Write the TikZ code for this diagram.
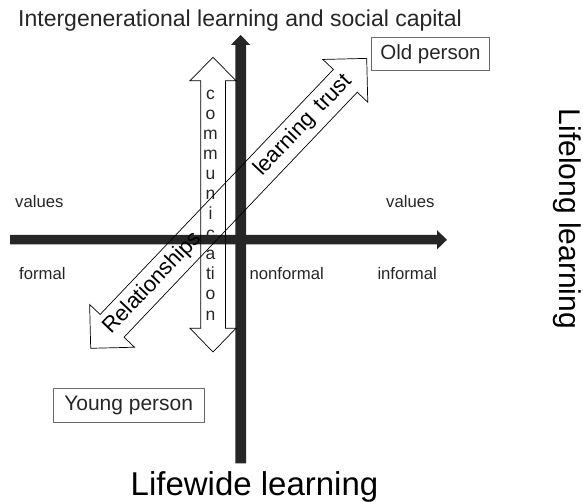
\documentclass[tikz,border=0pt]{standalone}
\usepackage{fontspec}
\setmainfont{Liberation Sans}
\definecolor{axisgray}{HTML}{262626}
\definecolor{txtgray}{HTML}{262626}
\definecolor{boxgray}{HTML}{6A6A6A}
\begin{document}
\begin{tikzpicture}[x=1pt,y=1pt,
  lbl/.style={inner sep=0pt, text=txtgray, font=\fontsize{16.7}{20}\selectfont},
  personbox/.style={draw=boxgray, line width=0.8pt, inner sep=0pt, text=txtgray},
  hollow/.style={draw=black, line width=0.7pt, line join=miter},
  axisfill/.style={fill=axisgray},
  diagtext/.style={inner sep=0pt, rotate=46.41, font=\fontsize{22}{26}\selectfont},
  commtext/.style={inner sep=0pt, text=txtgray, font=\fontsize{17.5}{20}\selectfont}]
\path[use as bounding box] (0,0) rectangle (583,-502);

% axes
\fill[axisfill] (10,-235) -- (437,-235) -- (437,-230.2) -- (447,-239.8) -- (437,-249.4) -- (437,-244.4) -- (10,-244.4) -- cycle;
\fill[axisfill] (235.3,-463.3) -- (235.3,-45) -- (230.8,-45) -- (240.6,-35) -- (250.4,-45) -- (246,-45) -- (246,-463.3) -- cycle;

% communication double arrow
\draw[hollow] (213,-57.3) -- (236,-80.7) -- (225.5,-80.7) -- (225.5,-328.3) -- (236,-328.3) -- (213,-352) -- (190,-328.3) -- (200.8,-328.3) -- (200.8,-80.7) -- (190,-80.7) -- cycle;
\foreach \ch [count=\i from 0] in {c,o,m,m,u,n,i,c,a,ti,o,n}
  \node[commtext, anchor=base] (comm\i) at (210.5,{-100-20*\i}) {\ch};

% diagonal double arrow
\begin{scope}[shift={(90.7,-348.3)}, rotate=46.41]
\draw[hollow] (0,0) -- (31,31) -- (31,16.5) -- (369.3,16.5) -- (369.3,31) -- (400.3,0) -- (369.3,-31) -- (369.3,-16.5) -- (31,-16.5) -- (31,-31) -- cycle;
\node[diagtext] (rel) at (90,0) {Relationships};
\node[diagtext] (lt) at (308,0) {learning\hspace{0.45em}trust};
\end{scope}

% labels
\node[lbl, anchor=base west] (val1) at (15,-207.5) {values};
\node[lbl, anchor=base west] (form) at (19,-280) {formal};
\node[lbl, anchor=base west] (nonf) at (249.3,-280) {nonformal};
\node[lbl, anchor=base west] (inf) at (377.3,-280) {informal};
\node[lbl, anchor=base west] (val2) at (386,-207.5) {values};

\node[anchor=base west, inner sep=0pt, text=txtgray, font=\fontsize{23}{27}\selectfont] (title) at (18,-27) {Intergenerational learning and social capital};

\node[personbox, minimum width=117.6pt, minimum height=33.4pt, font=\fontsize{20.5}{24}\selectfont] (old) at (430.5,-54) {Old person};
\node[personbox, minimum width=150.7pt, minimum height=34pt, font=\fontsize{21}{25}\selectfont] (young) at (128.7,-405.3) {Young person};

\node[anchor=base, inner sep=0pt, font=\fontsize{33}{38}\selectfont] (lifewide) at (254.5,-495) {Lifewide learning};
\node[rotate=-90, inner sep=0pt, font=\fontsize{30}{34}\selectfont] (lifelong) at (567,-219) {Lifelong learning};
\end{tikzpicture}
\end{document}
